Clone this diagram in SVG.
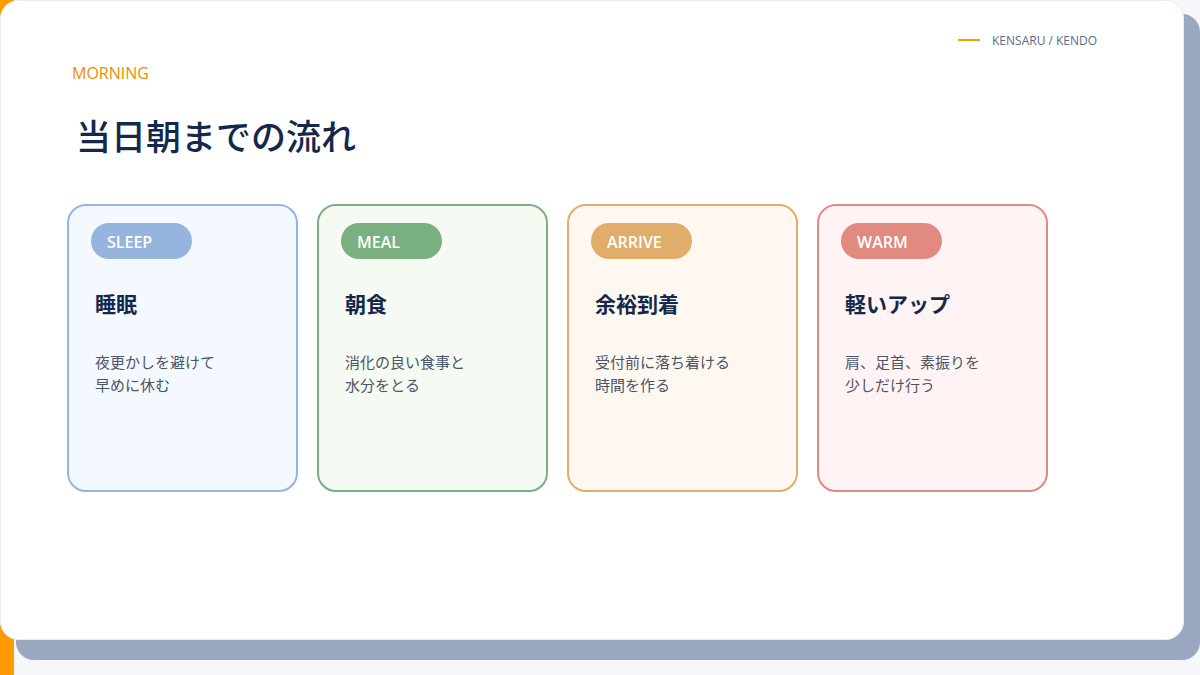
<svg xmlns="http://www.w3.org/2000/svg" width="1200" height="675" viewBox="0 0 1200 675">
<style>
text{font-family:"Open Sans","Noto Sans CJK JP",sans-serif}
.pill{font-size:16px;font-weight:600;fill:#fff}
.ttl{font-size:21px;font-weight:600;fill:#14284b}
.desc{font-size:15px;fill:#4a5568}
.card{stroke-width:2}
</style>
<rect width="1200" height="675" fill="#f6f7fb"/>
<rect x="0" y="0" width="14" height="675" fill="#ff9a00"/>
<rect x="16" y="14" width="1184" height="646" rx="18" fill="#9aa7c0"/>
<rect x="0.5" y="0.5" width="1183" height="639" rx="18" fill="#fff" stroke="#eceef2"/>
<text x="72" y="79" font-size="16" font-weight="500" fill="#f08c00">MORNING</text>
<line x1="958" y1="40" x2="980" y2="40" stroke="#f5a000" stroke-width="2"/>
<text x="992" y="45" font-size="12" fill="#5a6a85">KENSARU / KENDO</text>
<text x="76" y="150" font-size="35" font-weight="500" fill="#14284b">当日朝までの流れ</text>
<g id="sleep">
<rect class="card" x="68" y="205" width="229" height="286" rx="18" fill="#f4f8ff" stroke="#95b4de"/>
<rect x="91" y="223" width="101" height="36" rx="18" fill="#95b4de"/>
<text class="pill" x="107" y="248">SLEEP</text>
<text class="ttl" x="95" y="312">睡眠</text>
<text class="desc" x="95" y="368">夜更かしを避けて</text>
<text class="desc" x="95" y="391">早めに休む</text>
</g>
<g id="meal">
<rect class="card" x="318" y="205" width="229" height="286" rx="18" fill="#f5faf3" stroke="#7ab080"/>
<rect x="341" y="223" width="101" height="36" rx="18" fill="#7ab080"/>
<text class="pill" x="357" y="248">MEAL</text>
<text class="ttl" x="345" y="312">朝食</text>
<text class="desc" x="345" y="368">消化の良い食事と</text>
<text class="desc" x="345" y="391">水分をとる</text>
</g>
<g id="arrive">
<rect class="card" x="568" y="205" width="229" height="286" rx="18" fill="#fff8f1" stroke="#e0ae6a"/>
<rect x="591" y="223" width="101" height="36" rx="18" fill="#e0ae6a"/>
<text class="pill" x="607" y="248">ARRIVE</text>
<text class="ttl" x="595" y="312">余裕到着</text>
<text class="desc" x="595" y="368">受付前に落ち着ける</text>
<text class="desc" x="595" y="391">時間を作る</text>
</g>
<g id="warm">
<rect class="card" x="818" y="205" width="229" height="286" rx="18" fill="#fff4f3" stroke="#e08a80"/>
<rect x="841" y="223" width="101" height="36" rx="18" fill="#e08a80"/>
<text class="pill" x="857" y="248">WARM</text>
<text class="ttl" x="845" y="312">軽いアップ</text>
<text class="desc" x="845" y="368">肩、足首、素振りを</text>
<text class="desc" x="845" y="391">少しだけ行う</text>
</g>
<g id="connectors"/>
</svg>
